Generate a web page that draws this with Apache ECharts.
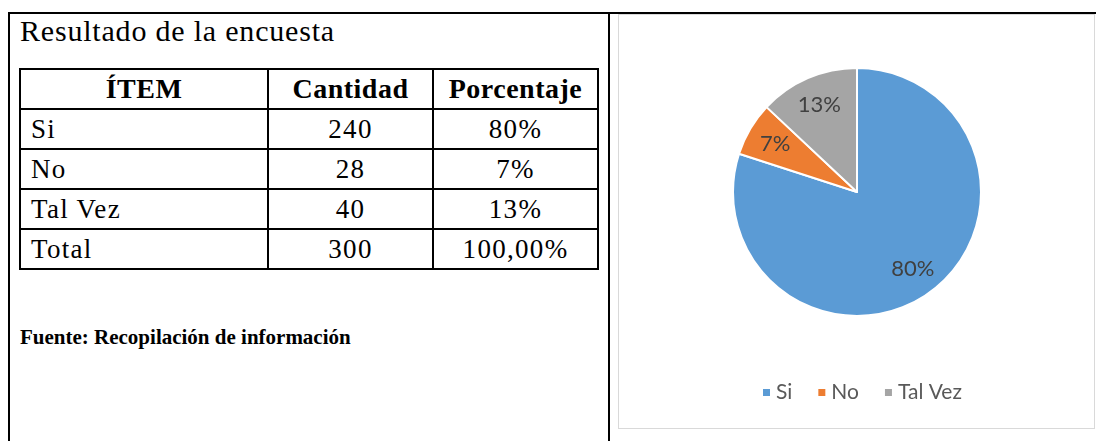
<!DOCTYPE html>
<html>
<head>
<meta charset="utf-8">
<script src="https://cdn.jsdelivr.net/npm/echarts@6/dist/echarts.min.js"></script>
<style>
  html, body { margin: 0; padding: 0; background: #fff; }
  body { width: 1096px; height: 441px; position: relative; overflow: hidden; font-family: "Liberation Serif", serif; color: #000; }
  .frame-top { position: absolute; left: 8px; top: 12px; width: 1088px; height: 2px; background: #000; }
  .frame-left { position: absolute; left: 8px; top: 12px; width: 2px; height: 429px; background: #000; }
  .frame-mid { position: absolute; left: 608px; top: 12px; width: 2px; height: 429px; background: #000; }
  .title { position: absolute; left: 20px; top: 14px; font-size: 30px; letter-spacing: 0.8px; white-space: nowrap; }
  table { position: absolute; left: 19px; top: 68px; border-collapse: collapse; }
  td, th { border: 2px solid #000; height: 38px; padding: 0 10px; font-size: 27px; line-height: 38px; letter-spacing: 1.3px; white-space: nowrap; }
  th { font-weight: bold; text-align: center; font-size: 28px; letter-spacing: 0.5px; }
  td.c { text-align: center; }
  .fuente { position: absolute; left: 20px; top: 325px; font-size: 21px; font-weight: bold; white-space: nowrap; }
  #chart { position: absolute; left: 618px; top: 14px; width: 477px; height: 415px; box-sizing: border-box; border: 1px solid #d9d9d9; }
</style>
</head>
<body>
<div class="frame-top"></div>
<div class="frame-left"></div>
<div class="frame-mid"></div>
<div class="title">Resultado de la encuesta</div>
<table id="tbl"></table>
<div class="fuente">Fuente: Recopilación de información</div>
<div id="chart"></div>
<script>
  // datos de la encuesta
  var headers = ['ÍTEM', 'Cantidad', 'Porcentaje'];
  var items = ['Si', 'No', 'Tal Vez'];
  var cantidades = [240, 28, 40];
  var porcentajes = [80, 7, 13];
  var total = 300;
  var totalPct = '100,00%';
  var colores = ['#5b9bd5', '#ed7d31', '#a5a5a5'];

  // tabla
  var colW = [226, 143, 143];
  var html = '<tr>';
  headers.forEach(function (h, i) {
    html += '<th style="width:' + colW[i] + 'px">' + h + '</th>';
  });
  html += '</tr>';
  for (var i = 0; i < items.length; i++) {
    html += '<tr><td>' + items[i] + '</td><td class="c">' + cantidades[i] + '</td><td class="c">' + porcentajes[i] + '%</td></tr>';
  }
  html += '<tr><td>Total</td><td class="c">' + total + '</td><td class="c">' + totalPct + '</td></tr>';
  document.getElementById('tbl').innerHTML = html;

  // grafico
  var chart = echarts.init(document.getElementById('chart'));
  var pieData = items.map(function (name, i) {
    return { name: name, value: porcentajes[i], itemStyle: { color: colores[i] } };
  });
  chart.setOption({
    animation: false,
    legend: {
      top: 362,
      left: 137,
      icon: 'rect',
      itemWidth: 9,
      itemHeight: 9,
      itemGap: 24,
      textStyle: { color: '#595959', fontSize: 21, fontFamily: 'Lato' },
      data: items
    },
    series: [
      {
        name: 'Resultado',
        type: 'pie',
        center: [238, 177],
        radius: [0, 124],
        startAngle: 90,
        clockwise: true,
        itemStyle: { borderColor: '#fff', borderWidth: 2 },
        label: { show: false },
        labelLine: { show: false },
        data: pieData
      },
      {
        // serie transparente solo para ubicar las etiquetas
        name: 'Etiquetas',
        type: 'pie',
        silent: true,
        center: [238, 177],
        radius: [60, 124],
        startAngle: 90,
        clockwise: true,
        itemStyle: { color: 'rgba(0,0,0,0)' },
        label: {
          show: true,
          position: 'inside',
          formatter: '{c}%',
          color: '#404040',
          fontSize: 22,
          fontFamily: 'Lato'
        },
        labelLine: { show: false },
        data: items.map(function (name, i) { return { name: name, value: porcentajes[i] }; })
      }
    ]
  });
</script>
</body>
</html>
